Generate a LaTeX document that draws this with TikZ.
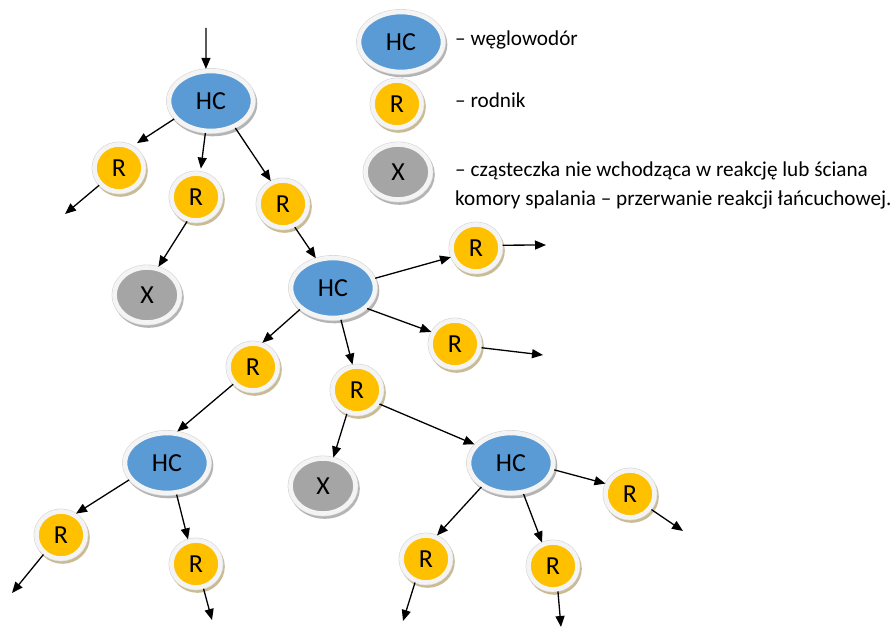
\documentclass[tikz,border=0pt]{standalone}
\usepackage{fontspec}
\setmainfont{Carlito}
\usetikzlibrary{shapes.geometric,arrows.meta}

\definecolor{hcblue}{HTML}{5B9BD5}
\definecolor{ryellow}{HTML}{FFC000}
\definecolor{xgray}{HTML}{A5A5A5}
\definecolor{rimwhite}{HTML}{F4F4F4}
\definecolor{rimedge}{HTML}{D6D6D6}
\definecolor{shadowgray}{HTML}{B4B4B4}
\definecolor{shadowtan}{HTML}{CBBB92}

\tikzset{
  ball/.style n args={4}{ellipse, inner sep=0pt,
    minimum width=#1, minimum height=#2,
    fill=#3, draw=rimwhite, line width=4.6pt,
    preaction={draw=#4, fill=#4, line width=5.4pt,
      transform canvas={shift={(1.6pt,-2.6pt)}}},
    preaction={draw=rimedge, line width=5.8pt},
    font=\fontsize{26}{26}\selectfont},
  hc/.style={ball={84pt}{60pt}{hcblue}{shadowgray}},
  rad/.style={ball={49pt}{47pt}{ryellow}{shadowtan}},
  xball/.style={ball={65pt}{55pt}{xgray}{shadowgray}},
  link/.style={line width=1.3pt, -{Triangle[length=11pt,width=9pt]}},
  legendtext/.style={anchor=base west, inner sep=0pt,
    font=\fontsize{21.2}{26}\selectfont}
}

\begin{document}
\begin{tikzpicture}[x=1pt,y=-1pt]
\useasboundingbox (0,0) rectangle (893,628);

% legend
\node[hc]   (lhc) at (401,42)  {HC};
\node[rad]  (lr)  at (397,104) {R};
\node[xball](lx)  at (398,172) {X};
\node[legendtext] (t1) at (455,46)  {– węglowodór};
\node[legendtext] (t2) at (455,108) {– rodnik};
\node[legendtext] (t3) at (455,177) {– cząsteczka nie wchodząca w reakcję lub ściana};
\node[legendtext] (t4) at (455,206) {komory spalania – przerwanie reakcji łańcuchowej.};

% hydrocarbon molecules
\node[hc] (hc1) at (211,101) {HC};
\node[hc] (hc2) at (333,288) {HC};
\node[hc] (hc3) at (167,463) {HC};
\node[hc] (hc4) at (511,463) {HC};

% radicals
\node[rad] (r1)  at (119,168) {R};
\node[rad] (r2)  at (196,197) {R};
\node[rad] (r3)  at (283,204) {R};
\node[rad] (r4)  at (476,248) {R};
\node[rad] (r5)  at (455,344) {R};
\node[rad] (r6)  at (253,367) {R};
\node[rad] (r7)  at (357,390) {R};
\node[rad] (r8)  at (61,535)  {R};
\node[rad] (r9)  at (196,564) {R};
\node[rad] (r10) at (426,559) {R};
\node[rad] (r11) at (553,566) {R};
\node[rad] (r12) at (630,494) {R};

% inert particles / chamber wall
\node[xball] (x1) at (147,295) {X};
\node[xball] (x2) at (323,486) {X};

% loose ends of the chain
\coordinate (in)  at (206,28);
\coordinate (e1)  at (65,214);
\coordinate (e4)  at (546,245);
\coordinate (e5)  at (543,355);
\coordinate (e8)  at (12,593);
\coordinate (e9)  at (212,620);
\coordinate (e10) at (403,621);
\coordinate (e11) at (561,627);
\coordinate (e12) at (683,531);

% chain reaction
\draw[link] (in) -- (hc1.99);
\draw[link, shorten >=5pt] (hc1.206) -- (r1.58);
\draw[link, shorten >=3pt] (hc1.260) -- (r2.80);
\draw[link] (hc1.312) -- (r3.118);
\draw[link] (r1.221) -- (e1);
\draw[link] (r2.250) -- (x1.68);
\draw[link] (r3.297) -- (hc2.120);

\draw[link] (hc2.13)  -- (r4.200);
\draw[link] (r4.6)    -- (e4);
\draw[link] (hc2.329) -- (r5.153);
\draw[link] (r5.352)  -- (e5);
\draw[link] (hc2.213) -- (r6.69);
\draw[link] (hc2.284) -- (r7.100);

\draw[link] (r6.221) -- (hc3.72);
\draw[link] (r7.247) -- (x2.70);
\draw[link] (r7.328) -- (hc4.153);

\draw[link] (hc3.204) -- (r8.55);
\draw[link] (hc3.287) -- (r9.108);
\draw[link] (r8.228)  -- (e8);
\draw[link] (r9.287)  -- (e9);

\draw[link] (hc4.219) -- (r10.65);
\draw[link] (hc4.292) -- (r11.115);
\draw[link] (hc4.351) -- (r12.157);
\draw[link] (r12.324) -- (e12);
\draw[link] (r10.245) -- (e10);
\draw[link] (r11.281) -- (e11);
\end{tikzpicture}
\end{document}
